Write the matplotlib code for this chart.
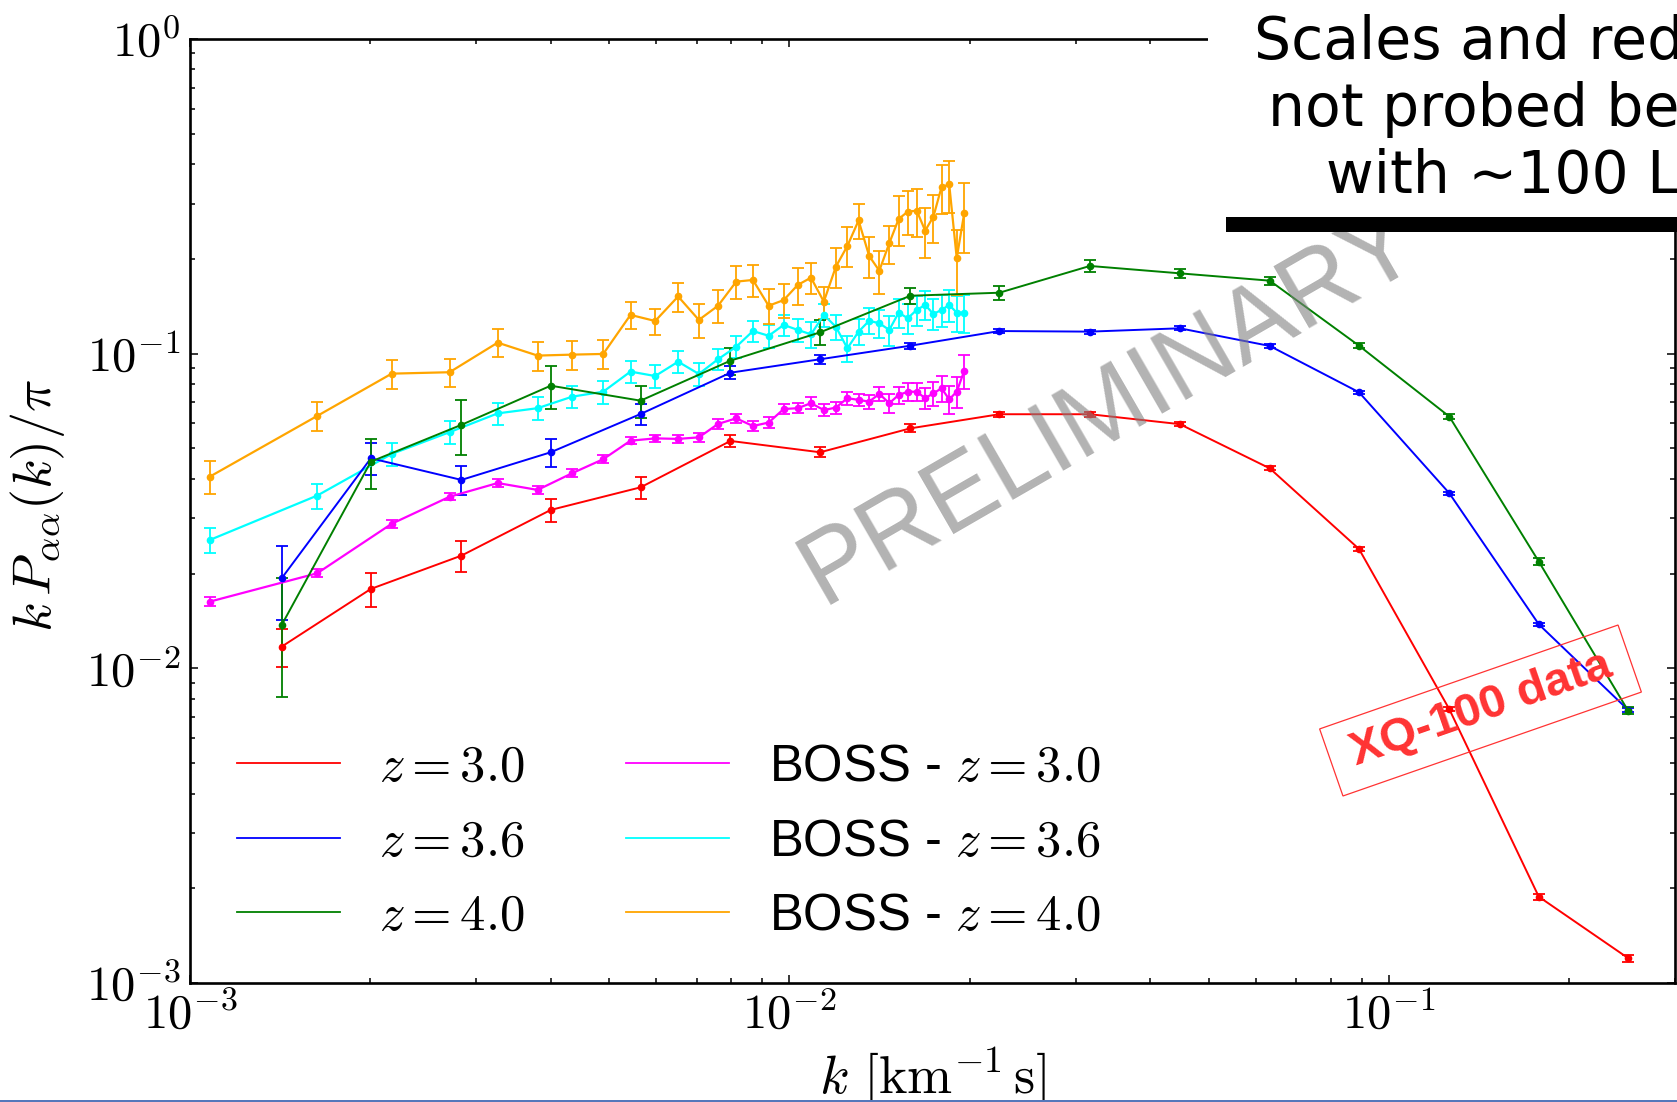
import numpy as np
import matplotlib
matplotlib.use("Agg")
import matplotlib.pyplot as plt
from matplotlib.lines import Line2D
from matplotlib.patches import Rectangle
from matplotlib.transforms import IdentityTransform
from matplotlib.ticker import LogLocator, FuncFormatter, NullFormatter

plt.rcParams['font.family'] = ['Liberation Sans', 'DejaVu Sans']
plt.rcParams['mathtext.fontset'] = 'cm'

# ---- simulated flux power spectra (k in s/km) ----
k_sim = [0.001422, 0.002003, 0.002836, 0.003997, 0.005644, 0.007972, 0.01125, 0.01591,
         0.02239, 0.03171, 0.04479, 0.06327, 0.08913, 0.1261, 0.1778, 0.2505]

p_z30 = [0.01172, 0.01788, 0.02281, 0.03187, 0.0376, 0.0528, 0.0486, 0.0579,
         0.0642, 0.0642, 0.0597, 0.0432, 0.02395, 0.00741, 0.00188, 0.0012]
e_z30 = [0.0016, 0.0022, 0.0025, 0.0027, 0.003, 0.0024, 0.0018, 0.0017,
         0.0012, 0.0012, 0.0009, 0.0006, 0.0003, 0.0001, 0.00004, 0.00003]

p_z36 = [0.01933, 0.04651, 0.0397, 0.0486, 0.0643, 0.087, 0.096, 0.106,
         0.118, 0.1175, 0.1204, 0.1058, 0.0754, 0.036, 0.0138, 0.00738]
e_z36 = [0.0051, 0.0054, 0.0042, 0.005, 0.0049, 0.0042, 0.0032, 0.0025,
         0.002, 0.0018, 0.0016, 0.0012, 0.0007, 0.0004, 0.00015, 0.0001]

p_z40 = [0.01373, 0.04537, 0.0594, 0.0791, 0.0709, 0.095, 0.1169, 0.1528,
         0.1562, 0.19, 0.18, 0.1706, 0.106, 0.0631, 0.02184, 0.00734]
e_z40 = [0.0056, 0.0081, 0.0116, 0.0125, 0.0083, 0.0095, 0.0107, 0.0085,
         0.008, 0.0085, 0.006, 0.005, 0.002, 0.0012, 0.0005, 0.0002]

# ---- BOSS measurements ----
k_boss = [0.00108, 0.00163, 0.00217, 0.00271, 0.00326, 0.00380, 0.00434, 0.00489,
          0.00543, 0.00597, 0.00652, 0.00706, 0.00760, 0.00815, 0.00869, 0.00923,
          0.00978, 0.01032, 0.01086, 0.01141, 0.01195, 0.01249, 0.01304, 0.01358,
          0.01412, 0.01467, 0.01521, 0.01575, 0.01630, 0.01684, 0.01738, 0.01793,
          0.01847, 0.01901, 0.01956]

boss_z30 = [0.0163, 0.02005, 0.0288, 0.0351, 0.0388, 0.0369, 0.0417, 0.0462,
            0.0529, 0.0538, 0.0536, 0.0542, 0.0598, 0.0623, 0.0589, 0.0604,
            0.0667, 0.0671, 0.0696, 0.0662, 0.0674, 0.0722, 0.0713, 0.0704,
            0.0745, 0.0696, 0.0739, 0.0757, 0.0757, 0.0722, 0.0748, 0.0776,
            0.0716, 0.0757, 0.0881]
eboss_z30 = [0.0005, 0.0006, 0.0008, 0.0009, 0.0011, 0.0011, 0.0012, 0.0013,
             0.0014, 0.0015, 0.0016, 0.0017, 0.002, 0.0022, 0.0022, 0.0024,
             0.0025, 0.0025, 0.003, 0.003, 0.003, 0.0033, 0.003, 0.0035,
             0.004, 0.005, 0.0045, 0.005, 0.005, 0.0055, 0.0065, 0.0075,
             0.0075, 0.0085, 0.011]

boss_z36 = [0.0256, 0.0354, 0.048, 0.0563, 0.0646, 0.0671, 0.073, 0.0757,
            0.0877, 0.0849, 0.0943, 0.0862, 0.096, 0.1052, 0.118, 0.114,
            0.1234, 0.119, 0.1152, 0.1327, 0.1218, 0.104, 0.1175, 0.1272,
            0.1249, 0.119, 0.135, 0.1296, 0.1377, 0.1428, 0.1337, 0.1377,
            0.1428, 0.135, 0.135]
eboss_z36 = [0.0023, 0.0032, 0.0039, 0.0047, 0.0053, 0.0057, 0.006, 0.0063,
             0.007, 0.007, 0.0075, 0.0075, 0.0075, 0.0085, 0.009, 0.0095,
             0.0095, 0.01, 0.011, 0.011, 0.011, 0.01, 0.011, 0.012,
             0.013, 0.013, 0.014, 0.014, 0.015, 0.015, 0.015, 0.016,
             0.017, 0.018, 0.019]

boss_z40 = [0.0407, 0.0634, 0.0864, 0.0873, 0.1084, 0.0986, 0.0993, 0.0998,
            0.1328, 0.127, 0.152, 0.128, 0.142, 0.1694, 0.1715, 0.142,
            0.148, 0.1653, 0.1744, 0.1463, 0.189, 0.22, 0.265, 0.2044,
            0.1835, 0.2243, 0.268, 0.2827, 0.2848, 0.246, 0.2725, 0.338,
            0.345, 0.201, 0.279]
eboss_z40 = [0.0049, 0.0067, 0.0093, 0.009, 0.011, 0.0102, 0.0104, 0.0105,
             0.013, 0.012, 0.016, 0.016, 0.017, 0.02, 0.02, 0.018,
             0.018, 0.022, 0.02, 0.017, 0.027, 0.032, 0.033, 0.03,
             0.029, 0.031, 0.048, 0.045, 0.05, 0.044, 0.047, 0.06,
             0.066, 0.047, 0.07]

sim_labels = [r'$z = 3.0$', r'$z = 3.6$', r'$z = 4.0$']
boss_labels = [r'BOSS - $z = 3.0$', r'BOSS - $z = 3.6$', r'BOSS - $z = 4.0$']
sim_colors = ['#ff0000', '#0000ff', '#008000']
boss_colors = ['#ff00ff', '#00ffff', '#ffa500']

W, H = 1677, 1102
fig = plt.figure(figsize=(W / 100, H / 100), dpi=100)
ax = fig.add_axes([190 / W, 1 - 983 / H, (1675 - 190) / W, (983 - 39) / H])

for vals, errs, c in zip([boss_z30, boss_z36, boss_z40],
                         [eboss_z30, eboss_z36, eboss_z40], boss_colors):
    ax.errorbar(k_boss, vals, yerr=errs, color=c, ecolor=c, marker='o', ms=4.5,
                mec=c, mfc=c, lw=1.6, elinewidth=1.3, capsize=4, capthick=1.3)

for vals, errs, c in zip([p_z30, p_z36, p_z40], [e_z30, e_z36, e_z40], sim_colors):
    ax.errorbar(k_sim, vals, yerr=errs, color=c, ecolor=c, marker='o', ms=4.5,
                mec=c, mfc=c, lw=1.4, elinewidth=1.3, capsize=4, capthick=1.3)

ax.set_xscale('log')
ax.set_yscale('log')
ax.set_xlim(1e-3, 0.3)
ax.set_ylim(1e-3, 1.0)


def decade_label(v, pos):
    return r'$10^{%d}$' % int(round(np.log10(v)))


for axis in (ax.xaxis, ax.yaxis):
    axis.set_major_locator(LogLocator(base=10, numticks=10))
    axis.set_minor_locator(LogLocator(base=10, subs=np.arange(2, 10), numticks=20))
    axis.set_major_formatter(FuncFormatter(decade_label))
    axis.set_minor_formatter(NullFormatter())

ax.tick_params(which='both', direction='in', top=True, right=True, width=1.1,
               labelsize=35)
ax.tick_params(which='major', length=6, pad=7)
ax.tick_params(which='minor', length=3.5)
for sp in ax.spines.values():
    sp.set_linewidth(1.9)

ax.set_xlabel(r'$k\ [\mathrm{km}^{-1}\,\mathrm{s}]$', fontsize=39)
ax.set_ylabel(r'$k\,P_{\alpha\alpha}(k)/\pi$', fontsize=39)
ax.xaxis.set_label_coords(0.5, -0.066)
ax.yaxis.set_label_coords(-0.083, 0.506)

handles = [Line2D([], [], color=c, lw=1.3) for c in sim_colors + boss_colors]
ax.legend(handles, sim_labels + boss_labels, ncol=2, loc='center left',
          bbox_to_anchor=(237 / W, 1 - 842 / H), bbox_transform=fig.transFigure,
          frameon=False, fontsize=36.5, handlelength=2.03, handletextpad=0.78,
          columnspacing=2.0, labelspacing=0.5, borderpad=0, borderaxespad=0)

# watermark
fig.text(1110 / W, 1 - 408 / H, 'PRELIMINARY', rotation=30, rotation_mode='anchor',
         ha='center', va='center', fontsize=74, color='#808080', alpha=0.6, zorder=4)

# XQ-100 tag with a tilted outline
fig.text(1481 / W, 1 - 709 / H, 'XQ-100 data', rotation=19.2, rotation_mode='anchor',
         ha='center', va='center', fontsize=34, fontweight='bold', color='#ff3333',
         zorder=4)
cx, cy, bw, bh = 1480.5, H - 710.5, 316, 71
fig.add_artist(Rectangle((cx - bw / 2, cy - bh / 2), bw, bh, angle=19.2,
                         rotation_point='center', transform=IdentityTransform(),
                         fc='none', ec='#ff3333', lw=0.9, zorder=4))

# overlay note in the upper right corner
fig.add_artist(Rectangle((1208 / W, 1 - 217 / H), (W - 1208) / W, 217 / H,
                         transform=fig.transFigure, fc='white', ec='none', zorder=5))
fig.add_artist(Rectangle((1226 / W, 1 - 232 / H), (W - 1226) / W, 15 / H,
                         transform=fig.transFigure, fc='black', ec='none', zorder=6))
note_lines = [('Scales and redshifts', 1254, 59),
              ('not probed before', 1267.5, 126),
              ('with ~100 LOS', 1325.5, 193)]
for txt, x0, yb in note_lines:
    fig.text(x0 / W, 1 - yb / H, txt, family='DejaVu Sans', fontsize=42,
             ha='left', va='baseline', color='black', zorder=7)

# thin frame line along the bottom edge
fig.add_artist(Rectangle((0, 0), 1, 2 / H, transform=fig.transFigure,
                         fc='#5577bb', ec='none', zorder=8))

fig.savefig('out.png', dpi=100)
